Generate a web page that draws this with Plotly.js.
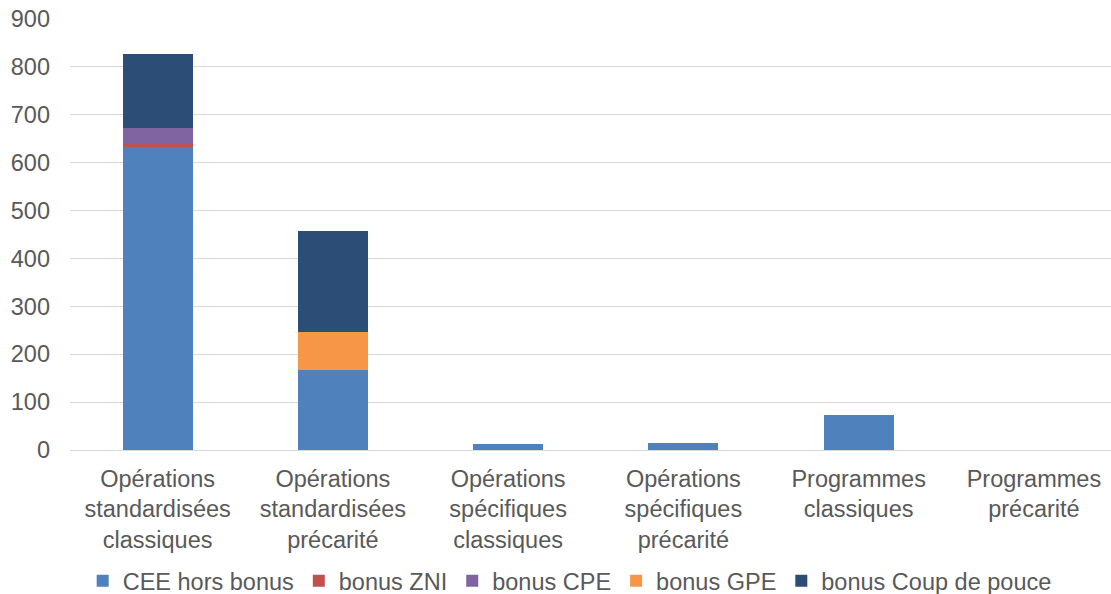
<!DOCTYPE html>
<html>
<head>
<meta charset="utf-8">
<script src="https://cdn.plot.ly/plotly-3.0.1.min.js"></script>
<style>html,body{margin:0;padding:0;background:#fff;}#chart{width:1111px;height:594px;}</style>
</head>
<body>
<div id="chart"></div>
<script>
const categories = [
  "Opérations<br>standardisées<br>classiques",
  "Opérations<br>standardisées<br>précarité",
  "Opérations<br>spécifiques<br>classiques",
  "Opérations<br>spécifiques<br>précarité",
  "Programmes<br>classiques",
  "Programmes<br>précarité"
];
const seriesNames = ["CEE hors bonus", "bonus ZNI", "bonus CPE", "bonus GPE", "bonus Coup de pouce"];
const ceeHorsBonus = [633, 168, 13, 14, 74, 1];
const bonusZNI = [7, 0, 0, 0, 0, 0];
const bonusCPE = [33, 0, 0, 0, 0, 0];
const bonusGPE = [0, 79, 0, 0, 0, 0];
const bonusCoupDePouce = [154, 210, 0, 0, 0, 0];
const yTicks = [0, 100, 200, 300, 400, 500, 600, 700, 800, 900];

const colors = ["#4f81bd", "#c0504d", "#8064a2", "#f79646", "#2c4d75"];
const values = [ceeHorsBonus, bonusZNI, bonusCPE, bonusGPE, bonusCoupDePouce];
const idx = categories.map((_, i) => i);

const traces = values.map((v, k) => ({
  type: "bar",
  name: seriesNames[k],
  x: idx,
  y: v,
  marker: {color: colors[k], line: {width: 0}},
  hoverinfo: "y+name"
}));

const font = {family: "Liberation Sans, Arial, sans-serif", size: 23.5, color: "#595959"};

const layout = {
  width: 1111,
  height: 594,
  barmode: "stack",
  bargap: 0.6,
  paper_bgcolor: "#ffffff",
  plot_bgcolor: "#ffffff",
  font: font,
  margin: {l: 70, r: 0, t: 19, b: 144, autoexpand: false},
  xaxis: {
    range: [-0.5, 5.44],
    tickmode: "array",
    tickvals: idx,
    ticktext: categories,
    showgrid: false,
    zeroline: false,
    showline: false,
    ticks: "",
    ticklabelstandoff: 12,
    tickfont: font,
    automargin: false,
    fixedrange: true
  },
  yaxis: {
    range: [0, 900],
    tickmode: "array",
    tickvals: yTicks,
    ticktext: yTicks.map(String),
    showgrid: true,
    gridcolor: "#d9d9d9",
    gridwidth: 1,
    zeroline: true,
    zerolinecolor: "#d9d9d9",
    zerolinewidth: 1,
    showline: false,
    ticks: "",
    ticklabelstandoff: 19,
    tickfont: font,
    automargin: false,
    fixedrange: true
  },
  showlegend: true,
  legend: {
    orientation: "h",
    x: 0.48,
    xanchor: "center",
    y: -0.253,
    yanchor: "top",
    font: font,
    traceorder: "normal",
    itemclick: false
  }
};

Plotly.newPlot("chart", traces, layout, {displayModeBar: false, staticPlot: true});
</script>
</body>
</html>
